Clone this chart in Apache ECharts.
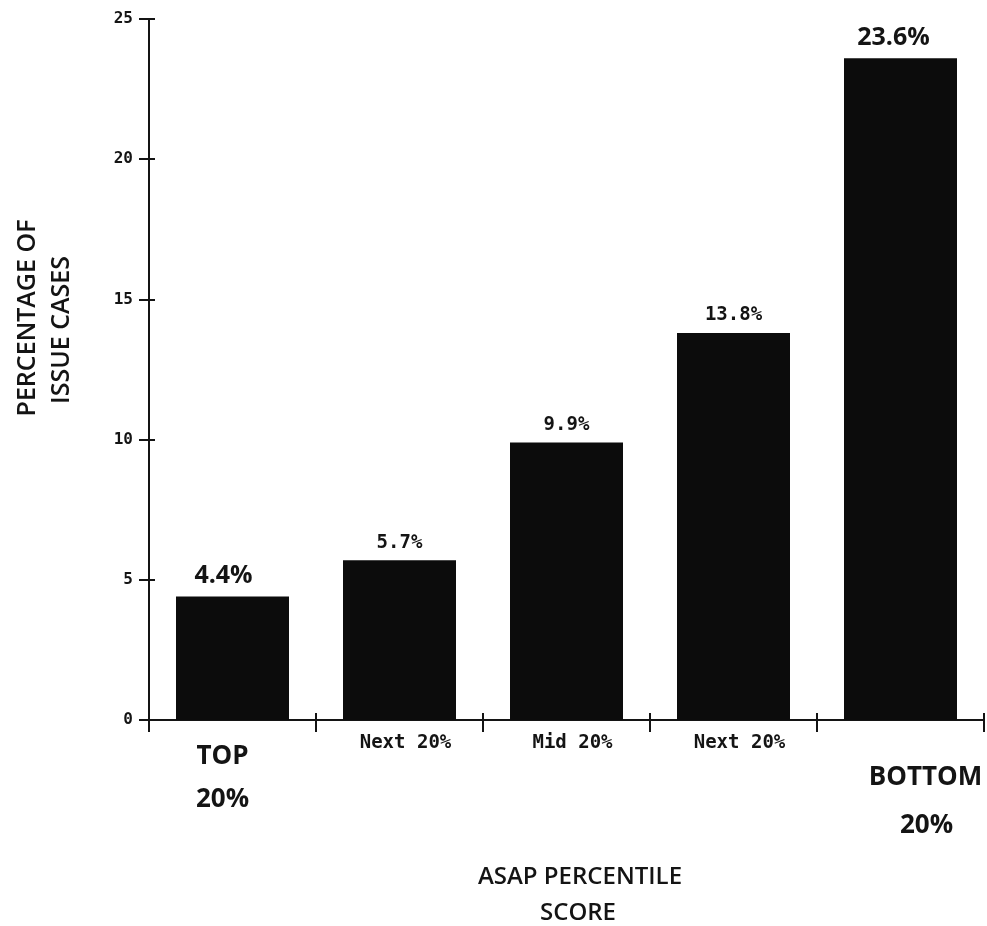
<!DOCTYPE html>
<html>
<head>
<meta charset="utf-8">
<script src="https://cdn.jsdelivr.net/npm/echarts@6/dist/echarts.min.js"></script>
<style>
html,body{margin:0;padding:0;background:#fff;}
#c{width:987px;height:926px;}
</style>
</head>
<body>
<div id="c"></div>
<script>
// ---- data ----
const categories = ['TOP\n20%', 'Next 20%', 'Mid 20%', 'Next 20%', 'BOTTOM\n20%'];
const values = [4.4, 5.7, 9.9, 13.8, 23.6];
const yTicks = [0, 5, 10, 15, 20, 25];
const yTitle = ['PERCENTAGE OF', 'ISSUE CASES'];
const xTitle = ['ASAP PERCENTILE', 'SCORE'];

const SANS = '"Open Sans", "DejaVu Sans", sans-serif';
const MONO = '"DejaVu Sans Mono", "Liberation Mono", monospace';
const INK = '#141414';
const bigLabelIdx = [0, 4];

const chart = echarts.init(document.getElementById('c'), null, {renderer: 'canvas'});

function xLabelFmt(value, index) {
  const lines = value.split('\n');
  if (lines.length === 2) {
    const p = index === 0 ? 't' : 'b';
    return '{' + p + '1|' + lines[0] + '}\n{' + p + '2|' + lines[1] + '}';
  }
  return '{s|' + value + '}';
}

const seriesData = values.map((v, i) => {
  const big = bigLabelIdx.indexOf(i) >= 0;
  return {
    value: v,
    label: big
      ? {fontFamily: SANS, fontSize: 25, fontWeight: 'bold', offset: [i === 0 ? -9 : -7, 0], distance: 8}
      : {fontFamily: MONO, fontSize: 19, fontWeight: 'bold', distance: 8}
  };
});

const option = {
  backgroundColor: '#ffffff',
  animation: false,
  grid: {left: 149, top: 19, width: 835, height: 701},
  xAxis: [
    {
      type: 'category',
      data: categories,
      position: 'bottom',
      axisLine: {show: true, lineStyle: {color: INK, width: 2}},
      axisTick: {show: true, inside: false, length: 12, lineStyle: {color: INK, width: 2}},
      axisLabel: {
        interval: 0,
        margin: 15,
        color: INK,
        formatter: xLabelFmt,
        rich: {
          t1: {fontFamily: SANS, fontSize: 26, fontWeight: 'bold', color: INK, lineHeight: 44, padding: [0, 20, 0, 0]},
          t2: {fontFamily: SANS, fontSize: 26, fontWeight: 'bold', color: INK, lineHeight: 42, padding: [0, 20, 0, 0]},
          b1: {fontFamily: SANS, fontSize: 26, fontWeight: 'bold', color: INK, lineHeight: 86, padding: [0, 0, 0, 50]},
          b2: {fontFamily: SANS, fontSize: 26, fontWeight: 'bold', color: INK, lineHeight: 10, padding: [0, 0, 0, 52]},
          s: {fontFamily: MONO, fontSize: 19, fontWeight: 'bold', color: INK, lineHeight: 16, padding: [0, 0, 0, 12]}
        }
      },
      splitLine: {show: false}
    },
    {
      type: 'category',
      data: categories,
      position: 'bottom',
      offset: 0,
      axisLine: {show: true, lineStyle: {color: INK, width: 2}},
      axisTick: {show: true, inside: true, length: 7, lineStyle: {color: INK, width: 2}},
      axisLabel: {show: false},
      splitLine: {show: false}
    }
  ],
  yAxis: [
    {
      type: 'value',
      min: 0, max: 25, interval: 5,
      position: 'left',
      axisLine: {show: true, lineStyle: {color: INK, width: 2}},
      axisTick: {show: true, inside: false, length: 10, lineStyle: {color: INK, width: 2}},
      axisLabel: {
        margin: 16, color: INK, fontFamily: MONO, fontSize: 16, fontWeight: 'bold',
        formatter: v => (yTicks.indexOf(v) >= 0 ? String(v) : '')
      },
      splitLine: {show: false}
    },
    {
      type: 'value',
      min: 0, max: 25, interval: 5,
      position: 'left',
      offset: 0,
      axisLine: {show: true, lineStyle: {color: INK, width: 2}},
      axisTick: {show: true, inside: true, length: 6, lineStyle: {color: INK, width: 2}},
      axisLabel: {show: false},
      splitLine: {show: false}
    }
  ],
  series: [{
    type: 'bar',
    xAxisIndex: 0,
    yAxisIndex: 0,
    data: seriesData,
    barWidth: 113,
    itemStyle: {color: '#0c0c0c'},
    label: {
      show: true,
      position: 'top',
      color: INK,
      formatter: p => p.value + '%'
    },
    z: 3
  }, {
    // invisible helper so the tick-only (crossing tick) axes get drawn
    type: 'line',
    xAxisIndex: 1,
    yAxisIndex: 1,
    data: values,
    symbol: 'none',
    silent: true,
    lineStyle: {opacity: 0},
    tooltip: {show: false}
  }],
  graphic: [
    {type: 'text', x: 28, y: 318, rotation: Math.PI / 2,
     style: {text: yTitle[0], fill: INK, font: '600 25px ' + SANS, align: 'center', verticalAlign: 'middle'}},
    {type: 'text', x: 62, y: 330, rotation: Math.PI / 2,
     style: {text: yTitle[1], fill: INK, font: '600 25px ' + SANS, align: 'center', verticalAlign: 'middle'}},
    {type: 'text', x: 580, y: 877,
     style: {text: xTitle[0], fill: INK, font: '600 24px ' + SANS, align: 'center', verticalAlign: 'middle'}},
    {type: 'text', x: 578, y: 913,
     style: {text: xTitle[1], fill: INK, font: '600 24px ' + SANS, align: 'center', verticalAlign: 'middle'}}
  ]
};
chart.setOption(option);
</script>
</body>
</html>
